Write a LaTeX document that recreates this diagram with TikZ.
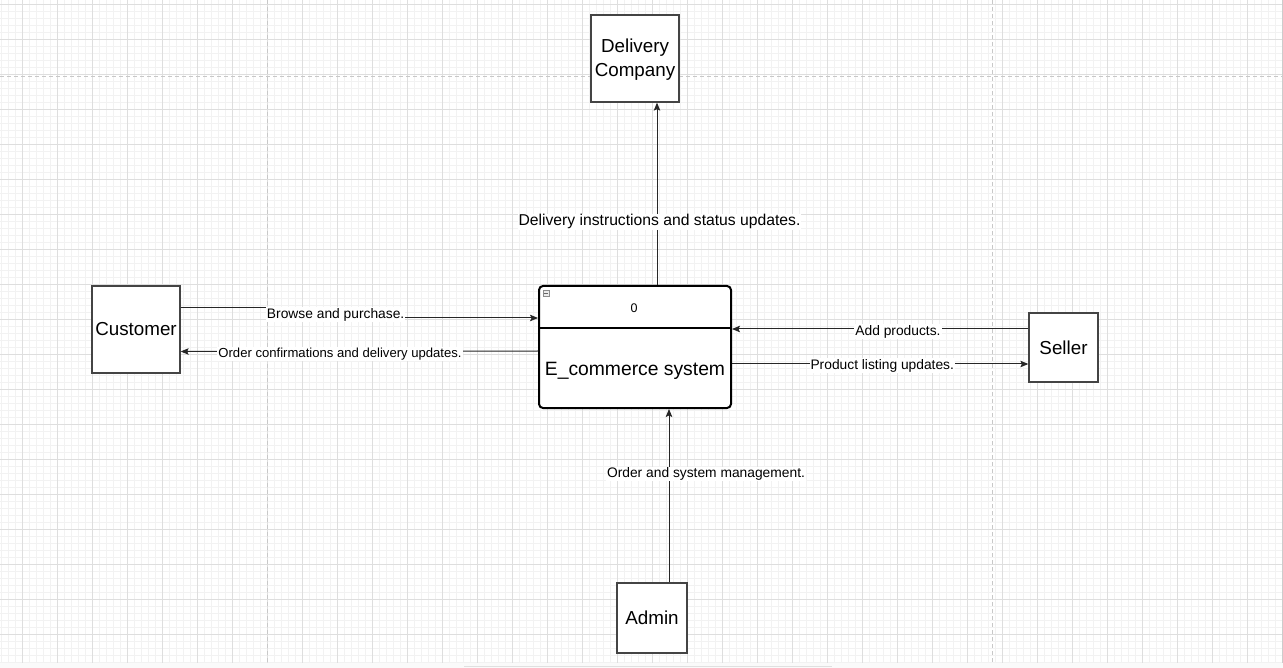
\documentclass[tikz,border=0pt]{standalone}
\usepackage{fontspec}
\setmainfont{Liberation Sans}
\usetikzlibrary{arrows.meta,calc}
\definecolor{gminor}{HTML}{F2F2F2}
\definecolor{gmajor}{HTML}{DEDEDE}
\definecolor{gpage}{HTML}{C8C8C8}
\definecolor{boxline}{HTML}{444444}
\tikzset{
  entity/.style={draw=boxline, line width=1.3pt, fill=white, inner sep=2pt, align=center, font=\fontsize{18.8}{24}\selectfont},
  arr/.style={draw=black!85, line width=1pt, -{Stealth[length=8pt,width=6.5pt,inset=1.5pt]}},
  lbl/.style={fill=white, inner sep=1pt, font=\fontsize{13.8}{16}\selectfont, text=black},
}
\begin{document}
\begin{tikzpicture}[x=1pt,y=-1pt]
\useasboundingbox (0,0) rectangle (1283,668);
% background grid
\fill[white] (0,0) rectangle (1283,663);
\fill[black!2] (0,663) rectangle (1283,668);
\foreach \i in {0,...,183} { \draw[gminor, line width=0.7pt] ({1.3+7*\i},0) -- ({1.3+7*\i},663); }
\foreach \i in {0,...,94} { \draw[gminor, line width=0.7pt] (0,{4.3+7*\i}) -- (1283,{4.3+7*\i}); }
\foreach \i in {0,...,36} { \draw[gmajor, line width=0.8pt] ({22.3+35*\i},0) -- ({22.3+35*\i},663); }
\foreach \i in {0,...,18} { \draw[gmajor, line width=0.8pt] (0,{4.3+35*\i}) -- (1283,{4.3+35*\i}); }
\draw[gpage, line width=1pt, dash pattern=on 4pt off 3pt] (267.7,0) -- (267.7,663);
\draw[gpage, line width=1pt, dash pattern=on 4pt off 3pt] (992,0) -- (992,663);
\draw[gpage, line width=1pt, dash pattern=on 4pt off 3pt] (0,76.3) -- (1283,76.3);
\draw[black!20, line width=0.8pt] (1282.3,0) -- (1282.3,663);
\draw[black!12, line width=0.8pt] (464,666.8) -- (832,666.8);

% entities
\node[entity, minimum width=88pt, minimum height=87pt] (dc) at (635,58.5) {};
\node[align=center, font=\fontsize{18.8}{24}\selectfont, inner sep=0pt] (dctext) at (635,59.8) {Delivery\\Company};
\node[entity, minimum width=88pt, minimum height=87pt] (cust) at (136,329.5) {Customer};
\node[entity, minimum width=69pt, minimum height=69pt] (seller) at (1063.5,347.5) {Seller};
\node[entity, minimum width=70pt, minimum height=70pt] (admin) at (652,618) {Admin};

% process
\node[draw=black, line width=2pt, fill=white, rounded corners=4pt, minimum width=192pt, minimum height=122pt, inner sep=0pt] (sys) at (635,347) {};
\draw[black, line width=2pt] ([yshift=-43pt]sys.north west) coordinate (dl) -- ([yshift=-43pt]sys.north east) coordinate (dr);
\node[font=\fontsize{12.5}{15}\selectfont] (pid) at (634,308.5) {0};
\node[font=\fontsize{19.3}{22}\selectfont] (pname) at (635,370.5) {E\_commerce system};
\node[draw=black!45, fill=black!8, line width=0.5pt, minimum size=6pt, inner sep=0pt] (icon) at (546,293) {};
\draw[black!60, line width=0.8pt] ([xshift=1.3pt]icon.west) -- ([xshift=-1.3pt]icon.east);

% connectors
\draw[arr] ([xshift=22pt]sys.north) -- node[lbl, pos=0.36, xshift=2.5pt, yshift=-2.5pt, font=\fontsize{15.7}{18}\selectfont] {Delivery instructions and status updates.} ([xshift=22pt]dc.south);
\draw[arr] ([yshift=21.5pt]cust.east) -- ++(155,0) -- node[lbl, midway, yshift=-1.5pt] {Browse and purchase.} ++(0,10) -- ([yshift=29pt]sys.west);
\draw[arr] ([yshift=-4pt]sys.west) -- node[lbl, pos=0.554, yshift=-3pt, font=\fontsize{13.1}{15}\selectfont] {Order confirmations and delivery updates.} ([yshift=-22pt]cust.east);
\draw[arr] ([yshift=18.5pt]seller.west) -- node[lbl, pos=0.44, yshift=-2.5pt] {Add products.} ([yshift=18pt]sys.east);
\draw[arr] ([yshift=-17pt]sys.east) -- node[lbl, pos=0.507, yshift=-1.5pt] {Product listing updates.} ([yshift=-16.5pt]seller.west);
\draw[arr] ([xshift=17pt]admin.north) -- node[lbl, pos=0.634, xshift=37pt, yshift=-1.5pt] {Order and system management.} ([xshift=34pt]sys.south);
\end{tikzpicture}
\end{document}
